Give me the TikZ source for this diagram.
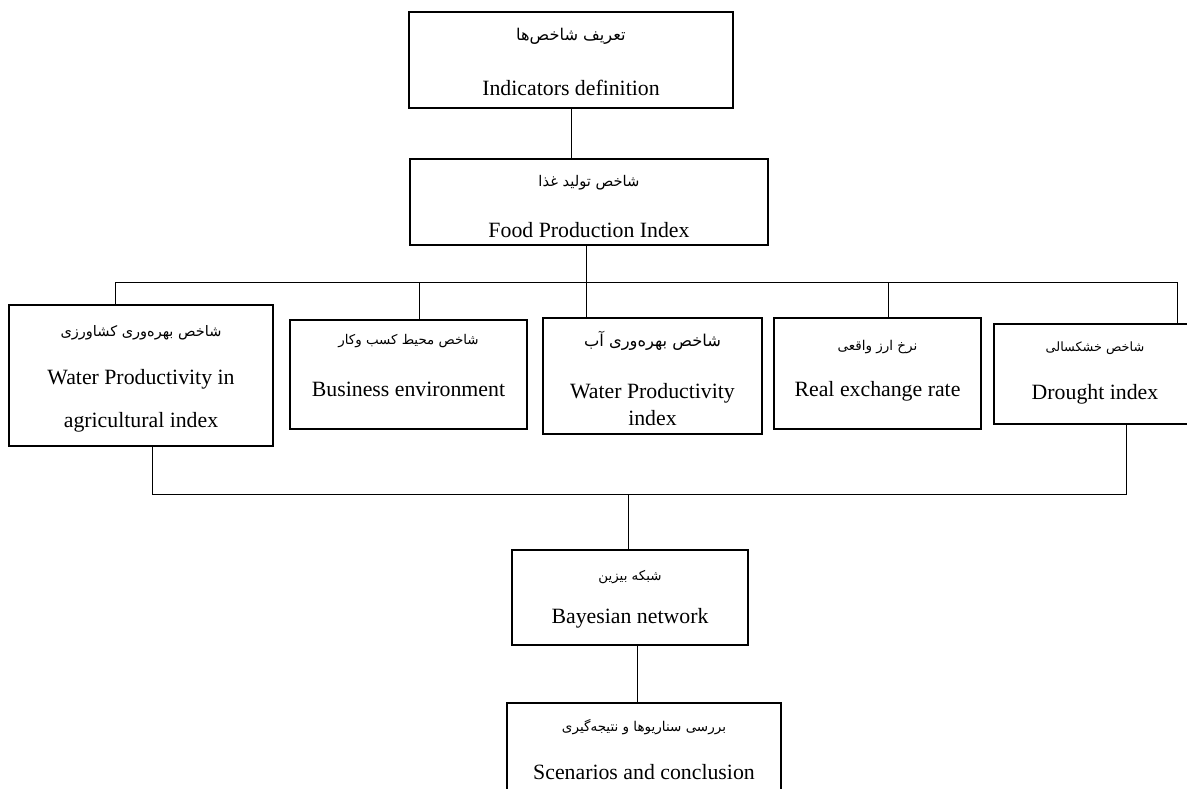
\documentclass[tikz,border=0pt]{standalone}
\usepackage{fontspec}
\setmainfont{Liberation Serif}
\newfontfamily\fafont[Script=Arabic]{DejaVu Sans}
\TeXXeTstate=1
\newcommand{\fa}[2][13.5]{\rule{0pt}{24pt}{\fafont\fontsize{#1}{16}\selectfont\beginR #2\endR}}
\newcommand{\bt}[1]{\rule[-#1pt]{0pt}{#1pt}}
\tikzset{box/.style={draw,line width=1.1pt,align=center,inner sep=0pt,font=\fontsize{21.8}{26}\selectfont},
 wire/.style={line width=0.9pt}}

\begin{document}
\begin{tikzpicture}[x=1pt,y=-1pt]
 \useasboundingbox (0,0) rectangle (1187,789);
 \node[box,minimum width=324,minimum height=96] (def) at (571,60) {\fa[16.2]{تعریف شاخص‌ها}\\[29pt]Indicators definition\bt{7}};
 \node[box,minimum width=358,minimum height=86] (food) at (589,202) {\fa[14.7]{شاخص تولید غذا}\\[25pt]Food Production Index\bt{5}};
 \node[box,minimum width=264,minimum height=141] (wpa) at (141,375.5) {\fa[14.5]{شاخص بهره‌وری کشاورزی}\\[22pt]Water Productivity in\\[17pt]agricultural index\bt{12}};
 \node[box,minimum width=237,minimum height=109] (biz) at (408.5,374.5) {\fa[13.4]{شاخص محیط کسب وکار}\\[26pt]Business environment\bt{33}};
 \node[box,minimum width=219,minimum height=116] (wpi) at (652.5,376) {\fa[16.3]{شاخص بهره‌وری آب}\\[26pt]Water Productivity\\[1pt]index\bt{4}};
 \node[box,minimum width=207,minimum height=111] (rate) at (877.5,373.5) {\fa[13.5]{نرخ ارز واقعی}\\[20pt]Real exchange rate\bt{25}};
 \node[box,minimum width=202,minimum height=100] (dro) at (1095,374) {\fa[12.8]{شاخص خشکسالی}\\[22pt]Drought index\bt{22}};
 \node[box,minimum width=236,minimum height=95] (bayes) at (630,597.5) {\fa[13.4]{شبکه بیزین}\\[17pt]Bayesian network\bt{16}};
 \node[box,minimum width=274,minimum height=94] (scen) at (644,750) {\fa[13.5]{بررسی سناریوها و نتیجه‌گیری}\\[22pt]Scenarios and conclusion\bt{14}};
 \coordinate (bus) at (0,282);
 \coordinate (bus2) at (0,494);
 % upper part
 \draw[wire] (def.south) -- (def.south |- food.north);
 \draw[wire] ([xshift=-3pt]food.south) -- ([xshift=-3pt]food.south |- wpi.north);
 \draw[wire] ([xshift=-26pt]wpa.north) -- ([xshift=-26pt]wpa.north |- bus) -- ([xshift=82pt]dro.north |- bus) -- ([xshift=82pt]dro.north);
 \foreach \n in {biz,rate}
  \draw[wire] ([xshift=10.5pt]\n.north) -- ([xshift=10.5pt]\n.north |- bus);
 % lower part
 \draw[wire] ([xshift=11pt]wpa.south) -- ([xshift=11pt]wpa.south |- bus2) -- ([xshift=31pt]dro.south |- bus2) -- ([xshift=31pt]dro.south);
 \draw[wire] ([xshift=-2pt]bayes.north) -- ([xshift=-2pt]bayes.north |- bus2);
 \draw[wire] ([xshift=7pt]bayes.south) -- ([xshift=7pt]bayes.south |- scen.north);
\end{tikzpicture}
\end{document}
